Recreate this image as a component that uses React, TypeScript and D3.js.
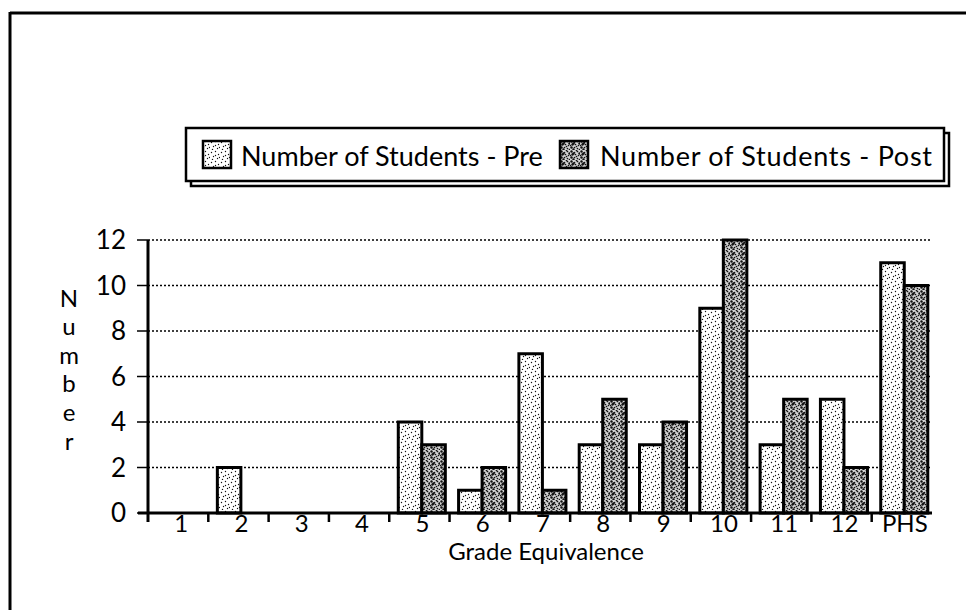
import React from "react";
import * as d3 from "d3";

const categories = ["1", "2", "3", "4", "5", "6", "7", "8", "9", "10", "11", "12", "PHS"];
const preValues = [0, 2, 0, 0, 4, 1, 7, 3, 3, 9, 3, 5, 11];
const postValues = [0, 0, 0, 0, 3, 2, 1, 5, 4, 12, 5, 2, 10];
const yTicks = [0, 2, 4, 6, 8, 10, 12];
const seriesNames = ["Number of Students - Pre", "Number of Students - Post"];
const yTitleLetters = ["N", "u", "m", "b", "e", "r"];
const xTitle = "Grade Equivalence";

const FONT = "Lato, 'Open Sans', sans-serif";

export default function App() {
  const x0 = 148, x1 = 932, yTop = 240, yBot = 513;
  const x = d3.scaleBand<string>().domain(categories).range([x0, x1]).paddingInner(0).paddingOuter(0);
  const y = d3.scaleLinear().domain([0, 12]).range([yBot, yTop]);
  const bw = x.bandwidth();
  const sub = d3.scaleBand<string>().domain(["pre", "post"]).range([bw * 0.15, bw * 0.93]).padding(0);

  const preDots = [[1, 2], [5, 1], [8, 4], [3, 6], [7, 8], [2, 9], [9, 7], [5, 5]];
  const postDots = [[1, 1], [4, 2], [7, 1], [2, 4], [5, 4], [8, 5], [1, 7], [4, 7], [7, 8], [3, 9], [9, 9], [6, 6], [9, 3], [0, 5], [6, 0], [3, 3]];

  return (
    <svg width={966} height={610} style={{ display: "block", position: "absolute", left: 0, top: 0 }} viewBox="0 0 966 610">
      <defs>
        <pattern id="prePat" width={10} height={10} patternUnits="userSpaceOnUse">
          <rect width={10} height={10} fill="#fff" />
          {preDots.map(([a, b], i) => (
            <circle key={i} cx={a + 0.5} cy={b + 0.5} r={0.7} fill="#111" />
          ))}
        </pattern>
        <pattern id="postPat" width={10} height={10} patternUnits="userSpaceOnUse">
          <rect width={10} height={10} fill="#d4d4d4" />
          {postDots.map(([a, b], i) => (
            <circle key={i} cx={a + 0.5} cy={b + 0.5} r={i % 3 === 0 ? 1.2 : 0.85} fill="#111" />
          ))}
        </pattern>
      </defs>
      {/* outer frame */}
      <line x1={10} y1={13} x2={966} y2={13} stroke="#000" strokeWidth={3} />
      <line x1={10} y1={12} x2={10} y2={610} stroke="#000" strokeWidth={3} />

      {/* legend */}
      <rect x={191} y={133} width={758} height={53} fill="#fff" stroke="#000" strokeWidth={2.5} />
      <rect x={186} y={128} width={758} height={53} fill="#fff" stroke="#000" strokeWidth={2.5} />
      <rect x={203} y={141} width={28} height={27} fill="url(#prePat)" stroke="#000" strokeWidth={2.5} />
      <text x={241} y={166} fontFamily={FONT} fontSize={27} fill="#000">{seriesNames[0]}</text>
      <rect x={560} y={141} width={28} height={27} fill="url(#postPat)" stroke="#000" strokeWidth={2.5} />
      <text x={600} y={166} fontFamily={FONT} fontSize={27} fill="#000" textLength={332} lengthAdjust="spacing">{seriesNames[1]}</text>

      {/* gridlines */}
      {yTicks.filter((t) => t > 0).map((t) => (
        <line key={t} x1={x0} x2={x1} y1={y(t)} y2={y(t)} stroke="#000" strokeWidth={1.3} strokeDasharray="2,2" />
      ))}

      {/* bars */}
      {categories.map((c, i) => (
        <g key={c}>
          {preValues[i] > 0 && (
            <rect x={(x(c) as number) + (sub("pre") as number)} y={y(preValues[i])} width={sub.bandwidth()} height={yBot - y(preValues[i])}
              fill="url(#prePat)" stroke="#000" strokeWidth={3} />
          )}
          {postValues[i] > 0 && (
            <rect x={(x(c) as number) + (sub("post") as number)} y={y(postValues[i])} width={sub.bandwidth()} height={yBot - y(postValues[i])}
              fill="url(#postPat)" stroke="#000" strokeWidth={3} />
          )}
        </g>
      ))}

      {/* y axis */}
      <line x1={x0} x2={x0} y1={yTop} y2={yBot + 9} stroke="#000" strokeWidth={3} />
      {yTicks.map((t) => (
        <g key={t}>
          <line x1={x0 - 11} x2={x0} y1={y(t)} y2={y(t)} stroke="#000" strokeWidth={1.5} />
          <text x={126} y={y(t)} dy="0.36em" textAnchor="end" fontFamily={FONT} fontSize={26} fill="#000">{t}</text>
        </g>
      ))}
      {/* x axis */}
      <line x1={x0 - 10} x2={x1} y1={yBot} y2={yBot} stroke="#000" strokeWidth={3} />
      {categories.slice(1).map((c) => (
        <line key={c} x1={x(c) as number} x2={x(c) as number} y1={yBot} y2={yBot + 9} stroke="#000" strokeWidth={2.5} />
      ))}
      {categories.map((c) => (
        <text key={c} x={(x(c) as number) + bw / 2 + 3} y={532} textAnchor="middle" fontFamily={FONT} fontSize={24} fill="#000">{c}</text>
      ))}
      <text x={546} y={560} textAnchor="middle" fontFamily={FONT} fontSize={24} fill="#000">{xTitle}</text>

      {/* y title */}
      {yTitleLetters.map((l, i) => (
        <text key={i} x={69} y={298 + i * 28.6} dy="0.36em" textAnchor="middle" fontFamily={FONT} fontSize={24} fill="#000">{l}</text>
      ))}
    </svg>
  );
}
